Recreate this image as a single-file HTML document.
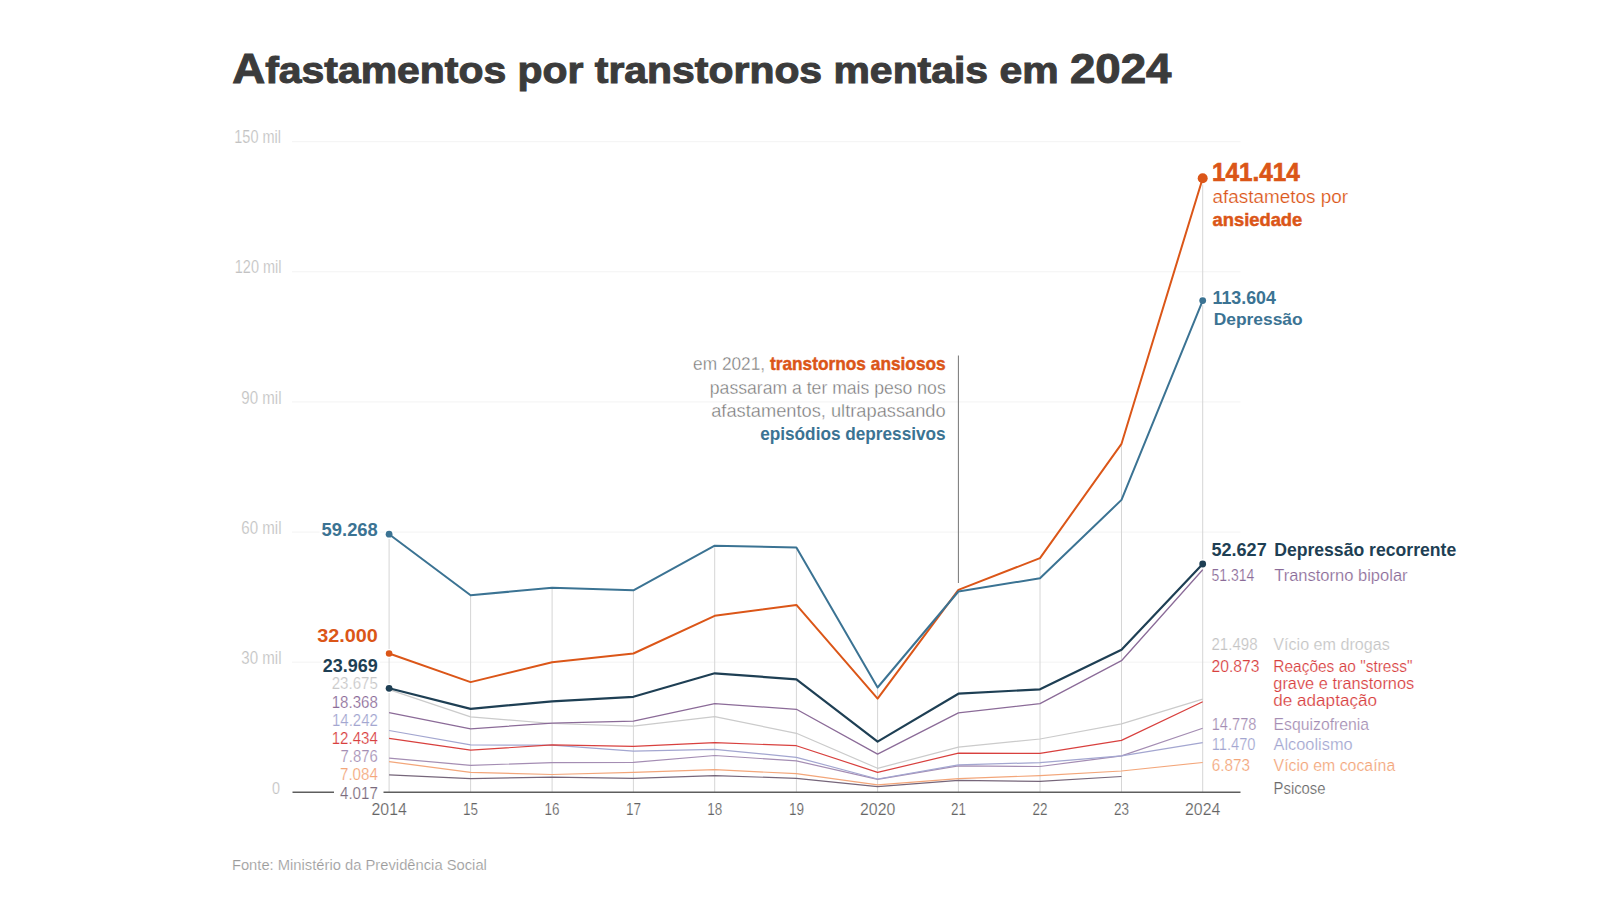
<!DOCTYPE html><html><head><meta charset="utf-8"><style>html,body{margin:0;padding:0;background:#fff;width:1600px;height:900px;overflow:hidden}svg{display:block}text{font-family:"Liberation Sans",sans-serif}</style></head><body>
<svg width="1600" height="900" viewBox="0 0 1600 900">
<rect width="1600" height="900" fill="#fff"/>
<line x1="292" y1="662.2" x2="1240.5" y2="662.2" stroke="#f3f3f3" stroke-width="1"/>
<line x1="292" y1="532.1" x2="1240.5" y2="532.1" stroke="#f3f3f3" stroke-width="1"/>
<line x1="292" y1="401.9" x2="1240.5" y2="401.9" stroke="#f3f3f3" stroke-width="1"/>
<line x1="292" y1="271.8" x2="1240.5" y2="271.8" stroke="#f3f3f3" stroke-width="1"/>
<line x1="292" y1="141.7" x2="1240.5" y2="141.7" stroke="#f3f3f3" stroke-width="1"/>
<line x1="389.1" y1="534.2" x2="389.1" y2="792.3" stroke="#d6d6d6" stroke-width="1"/>
<line x1="470.6" y1="595.3" x2="470.6" y2="792.3" stroke="#d6d6d6" stroke-width="1"/>
<line x1="552.1" y1="587.7" x2="552.1" y2="792.3" stroke="#d6d6d6" stroke-width="1"/>
<line x1="633.4" y1="590.3" x2="633.4" y2="792.3" stroke="#d6d6d6" stroke-width="1"/>
<line x1="714.7" y1="545.7" x2="714.7" y2="792.3" stroke="#d6d6d6" stroke-width="1"/>
<line x1="796.4" y1="547.5" x2="796.4" y2="792.3" stroke="#d6d6d6" stroke-width="1"/>
<line x1="877.6" y1="687.5" x2="877.6" y2="792.3" stroke="#d6d6d6" stroke-width="1"/>
<line x1="958.4" y1="591.5" x2="958.4" y2="792.3" stroke="#d6d6d6" stroke-width="1"/>
<line x1="1040.0" y1="558.1" x2="1040.0" y2="792.3" stroke="#d6d6d6" stroke-width="1"/>
<line x1="1121.5" y1="443.8" x2="1121.5" y2="792.3" stroke="#d6d6d6" stroke-width="1"/>
<line x1="1202.7" y1="178.2" x2="1202.7" y2="792.3" stroke="#d6d6d6" stroke-width="1"/>
<line x1="958.4" y1="355.5" x2="958.4" y2="583" stroke="#767676" stroke-width="1"/>
<circle cx="389.1" cy="534.2" r="4.7" fill="#fff"/>
<circle cx="389.1" cy="653.5" r="4.6" fill="#fff"/>
<circle cx="389.1" cy="688.3" r="4.7" fill="#fff"/>
<circle cx="1202.7" cy="178.2" r="6.3" fill="#fff"/>
<circle cx="1202.7" cy="300.6" r="4.7" fill="#fff"/>
<circle cx="1202.7" cy="564.0" r="4.7" fill="#fff"/>
<polyline points="389.1,689.6 470.6,716.9 552.1,723.5 633.4,726.2 714.7,716.7 796.4,733.3 877.6,768.3 958.4,747.2 1040.0,739.0 1121.5,723.9 1202.7,699.1" fill="none" stroke="#cbcbcb" stroke-width="1.2" stroke-linejoin="round"/>
<polyline points="389.1,774.9 470.6,778.6 552.1,777.2 633.4,778.3 714.7,775.6 796.4,778.3 877.6,786.6 958.4,780.4 1040.0,781.3 1121.5,776.5" fill="none" stroke="#76667a" stroke-width="1.2" stroke-linejoin="round"/>
<polyline points="389.1,761.6 470.6,772.4 552.1,774.5 633.4,772.4 714.7,769.7 796.4,773.7 877.6,784.9 958.4,778.6 1040.0,775.6 1121.5,771.0 1202.7,762.5" fill="none" stroke="#f3a67a" stroke-width="1.2" stroke-linejoin="round"/>
<polyline points="389.1,758.1 470.6,765.3 552.1,762.6 633.4,762.3 714.7,755.5 796.4,760.9 877.6,779.3 958.4,765.8 1040.0,766.5 1121.5,755.9 1202.7,728.2" fill="none" stroke="#a48db3" stroke-width="1.2" stroke-linejoin="round"/>
<polyline points="389.1,730.5 470.6,744.9 552.1,745.2 633.4,751.1 714.7,749.3 796.4,757.3 877.6,779.0 958.4,764.9 1040.0,762.6 1121.5,755.9 1202.7,742.6" fill="none" stroke="#a3a6d0" stroke-width="1.2" stroke-linejoin="round"/>
<polyline points="389.1,738.4 470.6,750.2 552.1,744.9 633.4,746.3 714.7,742.7 796.4,745.7 877.6,772.4 958.4,753.2 1040.0,753.4 1121.5,740.4 1202.7,701.8" fill="none" stroke="#d8403e" stroke-width="1.2" stroke-linejoin="round"/>
<polyline points="389.1,712.6 470.6,728.8 552.1,723.1 633.4,721.2 714.7,703.6 796.4,709.3 877.6,754.1 958.4,712.8 1040.0,703.6 1121.5,660.7 1202.7,569.7" fill="none" stroke="#8b6b98" stroke-width="1.3" stroke-linejoin="round"/>
<polyline points="389.1,688.3 470.6,708.9 552.1,701.3 633.4,696.8 714.7,673.3 796.4,679.3 877.6,741.6 958.4,693.7 1040.0,689.3 1121.5,649.7 1202.7,564.0" fill="none" stroke="#1e3f54" stroke-width="2.2" stroke-linejoin="round"/>
<polyline points="389.1,653.5 470.6,682.1 552.1,662.2 633.4,653.5 714.7,615.8 796.4,604.9 877.6,698.6 958.4,589.9 1040.0,558.1 1121.5,443.8 1202.7,178.2" fill="none" stroke="#db5618" stroke-width="2.0" stroke-linejoin="round"/>
<polyline points="389.1,534.2 470.6,595.3 552.1,587.7 633.4,590.3 714.7,545.7 796.4,547.5 877.6,687.5 958.4,591.5 1040.0,578.3 1121.5,499.9 1202.7,300.6" fill="none" stroke="#3b7393" stroke-width="2.0" stroke-linejoin="round"/>
<circle cx="389.1" cy="534.2" r="3.4" fill="#3b7393"/>
<circle cx="389.1" cy="653.5" r="3.3" fill="#db5618"/>
<circle cx="389.1" cy="688.3" r="3.4" fill="#1e3f54"/>
<circle cx="1202.7" cy="178.2" r="5.0" fill="#db5618"/>
<circle cx="1202.7" cy="300.6" r="3.4" fill="#3b7393"/>
<circle cx="1202.7" cy="564.0" r="3.4" fill="#1e3f54"/>
<line x1="292.5" y1="792.3" x2="1240.5" y2="792.3" stroke="#5e5e5e" stroke-width="1.6"/>
<text x="232.2" y="82.75" font-size="37.4" font-weight="bold" fill="#3b3b3b" stroke="#3b3b3b" stroke-width="1.0" textLength="939.3" lengthAdjust="spacingAndGlyphs"><tspan font-size="41.7">A</tspan>fastamentos por transtornos mentais em <tspan font-size="41.7">2024</tspan></text>
<text x="231.9" y="869.8" font-size="15.26" font-weight="normal" fill="#9a9a9a" textLength="255.0" lengthAdjust="spacingAndGlyphs" stroke="#fff" stroke-width="0.2">Fonte: Ministério da Previdência Social</text>
<text x="234.3" y="143.3" font-size="17.73" font-weight="normal" fill="#c2c2c2" textLength="46.7" lengthAdjust="spacingAndGlyphs" stroke="#fff" stroke-width="0.2">150 mil</text>
<text x="234.8" y="273.4" font-size="17.73" font-weight="normal" fill="#c2c2c2" textLength="46.7" lengthAdjust="spacingAndGlyphs" stroke="#fff" stroke-width="0.2">120 mil</text>
<text x="241.3" y="403.5" font-size="17.73" font-weight="normal" fill="#c2c2c2" textLength="40.2" lengthAdjust="spacingAndGlyphs" stroke="#fff" stroke-width="0.2">90 mil</text>
<text x="241.3" y="533.7" font-size="17.73" font-weight="normal" fill="#c2c2c2" textLength="40.2" lengthAdjust="spacingAndGlyphs" stroke="#fff" stroke-width="0.2">60 mil</text>
<text x="241.3" y="663.8" font-size="17.73" font-weight="normal" fill="#c2c2c2" textLength="40.2" lengthAdjust="spacingAndGlyphs" stroke="#fff" stroke-width="0.2">30 mil</text>
<text x="272.0" y="793.5" font-size="15.99" font-weight="normal" fill="#c2c2c2" textLength="8.0" lengthAdjust="spacingAndGlyphs" stroke="#fff" stroke-width="0.2">0</text>
<text x="371.5" y="815.3" font-size="16.42" font-weight="normal" fill="#646464" textLength="35.3" lengthAdjust="spacingAndGlyphs" stroke="#fff" stroke-width="0.2">2014</text>
<text x="463.1" y="815.3" font-size="16.42" font-weight="normal" fill="#646464" textLength="15.0" lengthAdjust="spacingAndGlyphs" stroke="#fff" stroke-width="0.2">15</text>
<text x="544.6" y="815.3" font-size="16.42" font-weight="normal" fill="#646464" textLength="15.0" lengthAdjust="spacingAndGlyphs" stroke="#fff" stroke-width="0.2">16</text>
<text x="625.9" y="815.3" font-size="16.42" font-weight="normal" fill="#646464" textLength="15.0" lengthAdjust="spacingAndGlyphs" stroke="#fff" stroke-width="0.2">17</text>
<text x="707.2" y="815.3" font-size="16.42" font-weight="normal" fill="#646464" textLength="15.0" lengthAdjust="spacingAndGlyphs" stroke="#fff" stroke-width="0.2">18</text>
<text x="788.9" y="815.3" font-size="16.42" font-weight="normal" fill="#646464" textLength="15.0" lengthAdjust="spacingAndGlyphs" stroke="#fff" stroke-width="0.2">19</text>
<text x="860.0" y="815.3" font-size="16.42" font-weight="normal" fill="#646464" textLength="35.3" lengthAdjust="spacingAndGlyphs" stroke="#fff" stroke-width="0.2">2020</text>
<text x="950.9" y="815.3" font-size="16.42" font-weight="normal" fill="#646464" textLength="15.0" lengthAdjust="spacingAndGlyphs" stroke="#fff" stroke-width="0.2">21</text>
<text x="1032.5" y="815.3" font-size="16.42" font-weight="normal" fill="#646464" textLength="15.0" lengthAdjust="spacingAndGlyphs" stroke="#fff" stroke-width="0.2">22</text>
<text x="1114.0" y="815.3" font-size="16.42" font-weight="normal" fill="#646464" textLength="15.0" lengthAdjust="spacingAndGlyphs" stroke="#fff" stroke-width="0.2">23</text>
<text x="1185.0" y="815.3" font-size="16.42" font-weight="normal" fill="#646464" textLength="35.3" lengthAdjust="spacingAndGlyphs" stroke="#fff" stroke-width="0.2">2024</text>
<rect x="319.6" y="520.5" width="60.2" height="17.0" fill="#fff"/>
<rect x="315.2" y="627.4" width="64.6" height="16.8" fill="#fff"/>
<rect x="320.8" y="656.9" width="59.0" height="16.8" fill="#fff"/>
<rect x="329.7" y="675.8" width="50.1" height="15.6" fill="#fff"/>
<rect x="329.7" y="693.9" width="50.1" height="15.6" fill="#fff"/>
<rect x="330.0" y="712.1" width="49.8" height="15.6" fill="#fff"/>
<rect x="329.7" y="730.3" width="50.1" height="15.4" fill="#fff"/>
<rect x="338.5" y="748.8" width="41.3" height="15.2" fill="#fff"/>
<rect x="338.0" y="766.5" width="41.8" height="15.5" fill="#fff"/>
<rect x="334" y="785.0" width="49.5" height="15.5" fill="#fff"/>
<text x="321.6" y="535.5" font-size="18.90" font-weight="bold" fill="#3b7393" textLength="56.2" lengthAdjust="spacingAndGlyphs">59.268</text>
<text x="317.2" y="642.2" font-size="18.60" font-weight="bold" fill="#db5618" textLength="60.6" lengthAdjust="spacingAndGlyphs">32.000</text>
<text x="322.8" y="671.7" font-size="18.60" font-weight="bold" fill="#1e3f54" textLength="55.0" lengthAdjust="spacingAndGlyphs">23.969</text>
<text x="331.7" y="689.4" font-size="16.86" font-weight="normal" fill="#c8c8c8" textLength="46.1" lengthAdjust="spacingAndGlyphs" stroke="#fff" stroke-width="0.2">23.675</text>
<text x="331.7" y="707.5" font-size="16.86" font-weight="normal" fill="#8b6b98" textLength="46.1" lengthAdjust="spacingAndGlyphs" stroke="#fff" stroke-width="0.2">18.368</text>
<text x="332.0" y="725.7" font-size="16.86" font-weight="normal" fill="#a3a6d0" textLength="45.8" lengthAdjust="spacingAndGlyphs" stroke="#fff" stroke-width="0.2">14.242</text>
<text x="331.7" y="743.7" font-size="16.57" font-weight="normal" fill="#d8403e" textLength="46.1" lengthAdjust="spacingAndGlyphs" stroke="#fff" stroke-width="0.2">12.434</text>
<text x="340.5" y="762.0" font-size="16.28" font-weight="normal" fill="#a48db3" textLength="37.3" lengthAdjust="spacingAndGlyphs" stroke="#fff" stroke-width="0.2">7.876</text>
<text x="340.0" y="780.0" font-size="16.72" font-weight="normal" fill="#f3a67a" textLength="37.8" lengthAdjust="spacingAndGlyphs" stroke="#fff" stroke-width="0.2">7.084</text>
<text x="340.0" y="798.5" font-size="16.72" font-weight="normal" fill="#7a6a7c" textLength="37.8" lengthAdjust="spacingAndGlyphs" stroke="#fff" stroke-width="0.2">4.017</text>
<text x="1212.0" y="180.8" font-size="25.44" font-weight="bold" fill="#db5618" textLength="87.7" lengthAdjust="spacingAndGlyphs" stroke="#db5618" stroke-width="0.66">141.414</text>
<text x="1212.5" y="203.1" font-size="17.44" font-weight="normal" fill="#db5618" textLength="135.5" lengthAdjust="spacingAndGlyphs" stroke="#fff" stroke-width="0.2">afastametos por</text>
<text x="1212.5" y="225.6" font-size="18.31" font-weight="bold" fill="#db5618" textLength="89.8" lengthAdjust="spacingAndGlyphs" stroke="#db5618" stroke-width="0.48">ansiedade</text>
<text x="1212.5" y="304.0" font-size="17.73" font-weight="bold" fill="#3b7393" textLength="63.3" lengthAdjust="spacingAndGlyphs">113.604</text>
<text x="1213.7" y="325.1" font-size="17.15" font-weight="bold" fill="#3b7393" textLength="88.9" lengthAdjust="spacingAndGlyphs">Depressão</text>
<text x="1211.5" y="556.2" font-size="18.02" font-weight="bold" fill="#1e3f54" textLength="55.2" lengthAdjust="spacingAndGlyphs">52.627</text>
<text x="1274.2" y="556.2" font-size="18.02" font-weight="bold" fill="#1e3f54" textLength="182.0" lengthAdjust="spacingAndGlyphs">Depressão recorrente</text>
<text x="1211.5" y="580.6" font-size="16.72" font-weight="normal" fill="#8b6b98" textLength="42.8" lengthAdjust="spacingAndGlyphs" stroke="#fff" stroke-width="0.2">51.314</text>
<text x="1274.2" y="580.6" font-size="16.72" font-weight="normal" fill="#8b6b98" textLength="133.4" lengthAdjust="spacingAndGlyphs" stroke="#fff" stroke-width="0.2">Transtorno bipolar</text>
<text x="1211.5" y="649.8" font-size="16.28" font-weight="normal" fill="#c4c4c4" textLength="46.0" lengthAdjust="spacingAndGlyphs" stroke="#fff" stroke-width="0.2">21.498</text>
<text x="1273.3" y="649.8" font-size="16.28" font-weight="normal" fill="#c4c4c4" textLength="116.4" lengthAdjust="spacingAndGlyphs" stroke="#fff" stroke-width="0.2">Vício em drogas</text>
<text x="1211.5" y="672.1" font-size="16.28" font-weight="normal" fill="#d8403e" textLength="48.0" lengthAdjust="spacingAndGlyphs" stroke="#fff" stroke-width="0.2">20.873</text>
<text x="1273.3" y="672.1" font-size="16.28" font-weight="normal" fill="#d8403e" textLength="139.1" lengthAdjust="spacingAndGlyphs" stroke="#fff" stroke-width="0.2">Reações ao "stress"</text>
<text x="1273.3" y="688.9" font-size="16.28" font-weight="normal" fill="#d8403e" textLength="140.9" lengthAdjust="spacingAndGlyphs" stroke="#fff" stroke-width="0.2">grave e transtornos</text>
<text x="1273.3" y="706.2" font-size="16.28" font-weight="normal" fill="#d8403e" textLength="103.7" lengthAdjust="spacingAndGlyphs" stroke="#fff" stroke-width="0.2">de adaptação</text>
<text x="1211.7" y="729.5" font-size="16.57" font-weight="normal" fill="#a48db3" textLength="44.7" lengthAdjust="spacingAndGlyphs" stroke="#fff" stroke-width="0.2">14.778</text>
<text x="1273.6" y="729.5" font-size="16.57" font-weight="normal" fill="#a48db3" textLength="95.5" lengthAdjust="spacingAndGlyphs" stroke="#fff" stroke-width="0.2">Esquizofrenia</text>
<text x="1211.7" y="750.4" font-size="15.99" font-weight="normal" fill="#a3a6d0" textLength="43.8" lengthAdjust="spacingAndGlyphs" stroke="#fff" stroke-width="0.2">11.470</text>
<text x="1273.6" y="750.4" font-size="15.99" font-weight="normal" fill="#a3a6d0" textLength="79.0" lengthAdjust="spacingAndGlyphs" stroke="#fff" stroke-width="0.2">Alcoolismo</text>
<text x="1211.7" y="771.3" font-size="16.42" font-weight="normal" fill="#f3a67a" textLength="38.3" lengthAdjust="spacingAndGlyphs" stroke="#fff" stroke-width="0.2">6.873</text>
<text x="1273.6" y="771.3" font-size="16.42" font-weight="normal" fill="#f3a67a" textLength="121.6" lengthAdjust="spacingAndGlyphs" stroke="#fff" stroke-width="0.2">Vício em cocaína</text>
<text x="1273.6" y="793.7" font-size="17.01" font-weight="normal" fill="#6a6a6a" textLength="51.9" lengthAdjust="spacingAndGlyphs" stroke="#fff" stroke-width="0.2">Psicose</text>
<text font-size="17.9" fill="#767676" font-weight="normal" stroke="#fff" stroke-width="0.35"><tspan x="693.1" y="370.4" textLength="252.6" lengthAdjust="spacingAndGlyphs">em 2021, <tspan fill="#db5618" font-weight="bold" stroke="#db5618" stroke-width="0.45">transtornos ansiosos</tspan></tspan></text>
<text x="709.8" y="394.0" font-size="17.88" font-weight="normal" fill="#767676" textLength="235.9" lengthAdjust="spacingAndGlyphs" stroke="#fff" stroke-width="0.35">passaram a ter mais peso nos</text>
<text x="711.2" y="417.1" font-size="17.88" font-weight="normal" fill="#767676" textLength="234.5" lengthAdjust="spacingAndGlyphs" stroke="#fff" stroke-width="0.35">afastamentos, ultrapassando</text>
<text x="760.2" y="440.4" font-size="17.88" font-weight="bold" fill="#3b7393" textLength="185.5" lengthAdjust="spacingAndGlyphs">episódios depressivos</text>
</svg></body></html>
